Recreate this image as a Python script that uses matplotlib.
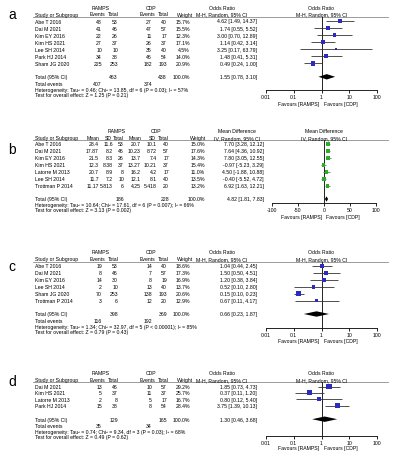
import numpy as np
import matplotlib.pyplot as plt
from matplotlib.transforms import offset_copy

plt.rcParams['font.family'] = ['Liberation Sans', 'DejaVu Sans']

W, H = 397, 460
FS = 3.7

# panel a: events, odds ratio
a_study = ["Abe T 2016", "Dai M 2021", "Kim EY 2016", "Kim HS 2021",
           "Lee SH 2014", "Park HJ 2014", "Sham JG 2020"]
a_ramps_ev = [48, 41, 22, 27, 10, 34, 225]
a_ramps_n = [53, 46, 26, 37, 10, 38, 253]
a_cdp_ev = [27, 47, 11, 26, 35, 46, 182]
a_cdp_n = [40, 57, 17, 37, 40, 54, 193]
a_weight = [15.7, 15.5, 12.3, 17.1, 4.5, 14.0, 20.9]
a_or = [4.62, 1.74, 3.00, 1.14, 3.25, 1.48, 0.49]
a_lo = [1.49, 0.55, 0.70, 0.42, 0.17, 0.41, 0.24]
a_hi = [14.37, 5.52, 12.89, 3.14, 63.79, 5.31, 1.00]
a_total = [1.55, 0.78, 3.10]
a_het = "Heterogeneity: Tau² = 0.46; Chi² = 13.85, df = 6 (P = 0.03); I² = 57%"
a_test = "Test for overall effect: Z = 1.25 (P = 0.21)"

# panel b: mean difference
b_study = ["Abe T 2016", "Dai M 2021", "Kim EY 2016", "Kim HS 2021",
           "Latorre M 2013", "Lee SH 2014", "Trottman P 2014"]
b_ramps_mean = [28.4, 17.87, 21.5, 12.3, 20.7, 11.7, 11.17]
b_ramps_sd = [11.6, 8.2, 8.3, 8.38, 8.9, 7.2, 5.813]
b_ramps_n = [53, 46, 26, 37, 8, 10, 6]
b_cdp_mean = [20.7, 10.23, 13.7, 13.27, 16.2, 12.1, 4.25]
b_cdp_sd = [10.1, 8.72, 7.4, 10.21, 4.2, 8.1, 5.418]
b_cdp_n = [40, 57, 17, 37, 17, 40, 20]
b_weight = [15.0, 17.6, 14.3, 15.4, 11.0, 13.5, 13.2]
b_md = [7.70, 7.64, 7.80, -0.97, 4.50, -0.40, 6.92]
b_lo = [3.28, 4.36, 3.05, -5.23, -1.88, -5.52, 1.63]
b_hi = [12.12, 10.92, 12.55, 3.29, 10.88, 4.72, 12.21]
b_total = [4.82, 1.81, 7.83]
b_het = "Heterogeneity: Tau² = 10.64; Chi² = 17.61, df = 6 (P = 0.007); I² = 66%"
b_test = "Test for overall effect: Z = 3.13 (P = 0.002)"

# panel c
c_study = ["Abe T 2016", "Dai M 2021", "Kim EY 2016", "Lee SH 2014",
           "Sham JG 2020", "Trottman P 2014"]
c_ramps_ev = [19, 8, 14, 2, 70, 3]
c_ramps_n = [53, 46, 30, 10, 253, 6]
c_cdp_ev = [14, 7, 8, 13, 138, 12]
c_cdp_n = [40, 57, 19, 40, 193, 20]
c_weight = [18.6, 17.3, 16.9, 13.7, 20.6, 12.9]
c_or = [1.04, 1.50, 1.20, 0.52, 0.15, 0.67]
c_lo = [0.44, 0.50, 0.38, 0.10, 0.10, 0.11]
c_hi = [2.45, 4.51, 3.84, 2.80, 0.23, 4.17]
c_total = [0.66, 0.23, 1.87]
c_het = "Heterogeneity: Tau² = 1.34; Chi² = 32.97, df = 5 (P < 0.00001); I² = 85%"
c_test = "Test for overall effect: Z = 0.79 (P = 0.43)"

# panel d
d_study = ["Dai M 2021", "Kim HS 2021", "Latorre M 2013", "Park HJ 2014"]
d_ramps_ev = [13, 5, 2, 15]
d_ramps_n = [46, 37, 8, 38]
d_cdp_ev = [10, 11, 5, 8]
d_cdp_n = [57, 37, 17, 54]
d_weight = [29.2, 25.7, 16.7, 28.4]
d_or = [1.85, 0.37, 0.80, 3.75]
d_lo = [0.73, 0.11, 0.12, 1.39]
d_hi = [4.73, 1.20, 5.40, 10.13]
d_total = [1.30, 0.46, 3.68]
d_het = "Heterogeneity: Tau² = 0.74; Chi² = 9.34, df = 3 (P = 0.03); I² = 68%"
d_test = "Test for overall effect: Z = 0.49 (P = 0.62)"


def txt(bg, x, y, s, ha='left', **kw):
    bg.text(x, y, s, ha=ha, va='center', fontsize=kw.pop('fontsize', FS), **kw)


def ci_str(e, l, h):
    return "%.2f [%.2f, %.2f]" % (e, l, h)


def forest(fig, bg, x0, x1, y_line, y_axis, rows_y, y_tot, est, lo, hi, w, tot,
           log, color, line_color, ticks, labels, xlim, ref, y_fav, titles, y_t):
    ax = fig.add_axes([x0 / W, 1 - y_axis / H, (x1 - x0) / W, (y_axis - y_line) / H])
    if log:
        ax.set_xscale('log')
    ax.set_xlim(*xlim)
    ax.set_ylim(y_axis, y_line)
    ax.patch.set_alpha(0)
    for s in ('top', 'right', 'left'):
        ax.spines[s].set_visible(False)
    ax.spines['bottom'].set_linewidth(0.6)
    ax.set_yticks([])
    ax.set_xticks(ticks)
    ax.set_xticklabels(labels, fontsize=FS)
    ax.minorticks_off()
    ax.tick_params(axis='x', length=2, width=0.6, pad=1.2)
    ax.axvline(ref, color='k', lw=0.6)
    ax.hlines(rows_y, lo, hi, color=line_color, lw=0.6)
    ax.scatter(est, rows_y, marker='s', s=0.5 * np.array(w), color=color,
               linewidths=0, zorder=3)
    e, l, h = tot
    d = 2.7
    ax.fill([l, e, h, e], [y_tot, y_tot - d, y_tot, y_tot + d], color='k', lw=0)
    left = offset_copy(ax.transData, fig=fig, x=-2, y=0, units='dots')
    right = offset_copy(ax.transData, fig=fig, x=2, y=0, units='dots')
    ax.text(ref, y_fav, "Favours [RAMPS]", ha='right', va='center', fontsize=FS, transform=left)
    ax.text(ref, y_fav, "Favours [CDP]", ha='left', va='center', fontsize=FS, transform=right)
    xc = (x0 + x1) / 2
    txt(bg, xc, y_t[0], titles[0], ha='center')
    txt(bg, xc, y_t[1], titles[1], ha='center')
    return ax


def or_panel(fig, bg, label, y_lab, y0, step, study, rev, rn, cev, cn, w, est, lo, hi,
             tot, het, test, y_axis, y_fav):
    y_grp, y_head, y_line = y0, y0 + 7, y0 + 9.5
    rows_y = y_line + 4.5 + step * np.arange(len(study))
    y_tot = rows_y[-1] + 13.5
    txt(bg, 8, y_lab, label, fontsize=10)
    txt(bg, 101, y_grp, "RAMPS", ha='center')
    txt(bg, 151, y_grp, "CDP", ha='center')
    txt(bg, 35, y_head, "Study or Subgroup")
    for name, x in [("Events", 97), ("Total", 113), ("Events", 147), ("Total", 163), ("Weight", 185)]:
        txt(bg, x, y_head, name, ha='center')
    txt(bg, 222, y_grp, "Odds Ratio", ha='center')
    txt(bg, 222, y_head, "M-H, Random, 95% CI", ha='center')
    bg.plot([33, 388], [y_line, y_line], color='#8c8c8c', lw=0.6)
    for i, y in enumerate(rows_y):
        txt(bg, 35, y, study[i])
        txt(bg, 102, y, str(rev[i]), ha='right')
        txt(bg, 118, y, str(rn[i]), ha='right')
        txt(bg, 152, y, str(cev[i]), ha='right')
        txt(bg, 167, y, str(cn[i]), ha='right')
        txt(bg, 190, y, "%.1f%%" % w[i], ha='right')
        txt(bg, 257, y, ci_str(est[i], lo[i], hi[i]), ha='right')
    txt(bg, 35, y_tot, "Total (95% CI)")
    txt(bg, 118, y_tot, str(sum(rn)), ha='right')
    txt(bg, 167, y_tot, str(sum(cn)), ha='right')
    txt(bg, 190, y_tot, "100.0%", ha='right')
    txt(bg, 257, y_tot, ci_str(*tot), ha='right')
    txt(bg, 35, y_tot + 6.8, "Total events")
    txt(bg, 102, y_tot + 6.8, str(sum(rev)), ha='right')
    txt(bg, 152, y_tot + 6.8, str(sum(cev)), ha='right')
    txt(bg, 35, y_tot + 12.3, het)
    txt(bg, 35, y_tot + 17.8, test)
    forest(fig, bg, 266, 377, y_line, y_axis, rows_y, y_tot, est, lo, hi, w, tot,
           True, '#2b2bbf', '#333333', [0.01, 0.1, 1, 10, 100],
           ["0.01", "0.1", "1", "10", "100"], (0.01, 100), 1, y_fav,
           ("Odds Ratio", "M-H, Random, 95% CI"), (y_grp, y_head))


def md_panel(fig, bg, y0, step):
    y_grp, y_head, y_line = y0, y0 + 7, y0 + 9.5
    rows_y = y_line + 4 + step * np.arange(len(b_study))
    y_tot = rows_y[-1] + 13
    txt(bg, 8, 150, "b", fontsize=10)
    txt(bg, 117, y_grp, "RAMPS", ha='center')
    txt(bg, 156, y_grp, "CDP", ha='center')
    txt(bg, 35, y_head, "Study or Subgroup")
    heads = [("Mean", 93, 'center'), ("SD", 108.5, 'center'), ("Total", 124, 'right'),
             ("Mean", 135, 'center'), ("SD", 152, 'center'), ("Total", 169, 'right'),
             ("Weight", 198, 'center')]
    for name, x, ha in heads:
        txt(bg, x, y_head, name, ha=ha)
    txt(bg, 237, y_grp, "Mean Difference", ha='center')
    txt(bg, 237, y_head, "IV, Random, 95% CI", ha='center')
    bg.plot([33, 388], [y_line, y_line], color='#8c8c8c', lw=0.6)
    for i, y in enumerate(rows_y):
        txt(bg, 35, y, b_study[i])
        txt(bg, 99, y, "%g" % b_ramps_mean[i], ha='right')
        txt(bg, 113, y, "%g" % b_ramps_sd[i], ha='right')
        txt(bg, 124, y, str(b_ramps_n[i]), ha='right')
        txt(bg, 141, y, "%g" % b_cdp_mean[i], ha='right')
        txt(bg, 157, y, "%g" % b_cdp_sd[i], ha='right')
        txt(bg, 169, y, str(b_cdp_n[i]), ha='right')
        txt(bg, 205, y, "%.1f%%" % b_weight[i], ha='right')
        txt(bg, 264, y, ci_str(b_md[i], b_lo[i], b_hi[i]), ha='right')
    txt(bg, 35, y_tot, "Total (95% CI)")
    txt(bg, 124, y_tot, str(sum(b_ramps_n)), ha='right')
    txt(bg, 169, y_tot, str(sum(b_cdp_n)), ha='right')
    txt(bg, 205, y_tot, "100.0%", ha='right')
    txt(bg, 264, y_tot, ci_str(*b_total), ha='right')
    txt(bg, 35, y_tot + 5.5, b_het)
    txt(bg, 35, y_tot + 11, b_test)
    forest(fig, bg, 272, 376, y_line, 204, rows_y, y_tot, b_md, b_lo, b_hi,
           b_weight, b_total, False, '#2faa2f', '#2faa2f',
           [-100, -50, 0, 50, 100], ["-100", "-50", "0", "50", "100"],
           (-100, 100), 0, 217.5, ("Mean Difference", "IV, Random, 95% CI"),
           (y_grp, y_head))


def main():
    fig = plt.figure(figsize=(W / 100, H / 100), dpi=100)
    bg = fig.add_axes([0, 0, 1, 1])
    bg.set_xlim(0, W)
    bg.set_ylim(H, 0)
    bg.axis('off')

    or_panel(fig, bg, "a", 15, 8, 7.05, a_study, a_ramps_ev, a_ramps_n, a_cdp_ev, a_cdp_n,
             a_weight, a_or, a_lo, a_hi, a_total, a_het, a_test, 91, 104.5)
    md_panel(fig, bg, 131.5, 7.0)
    or_panel(fig, bg, "c", 267, 253, 6.9, c_study, c_ramps_ev, c_ramps_n, c_cdp_ev, c_cdp_n,
             c_weight, c_or, c_lo, c_hi, c_total, c_het, c_test, 329, 341.5)
    or_panel(fig, bg, "d", 382, 373.5, 6.4, d_study, d_ramps_ev, d_ramps_n, d_cdp_ev, d_cdp_n,
             d_weight, d_or, d_lo, d_hi, d_total, d_het, d_test, 437, 449)

    fig.savefig("out.png", dpi=100)


if __name__ == "__main__":
    main()
